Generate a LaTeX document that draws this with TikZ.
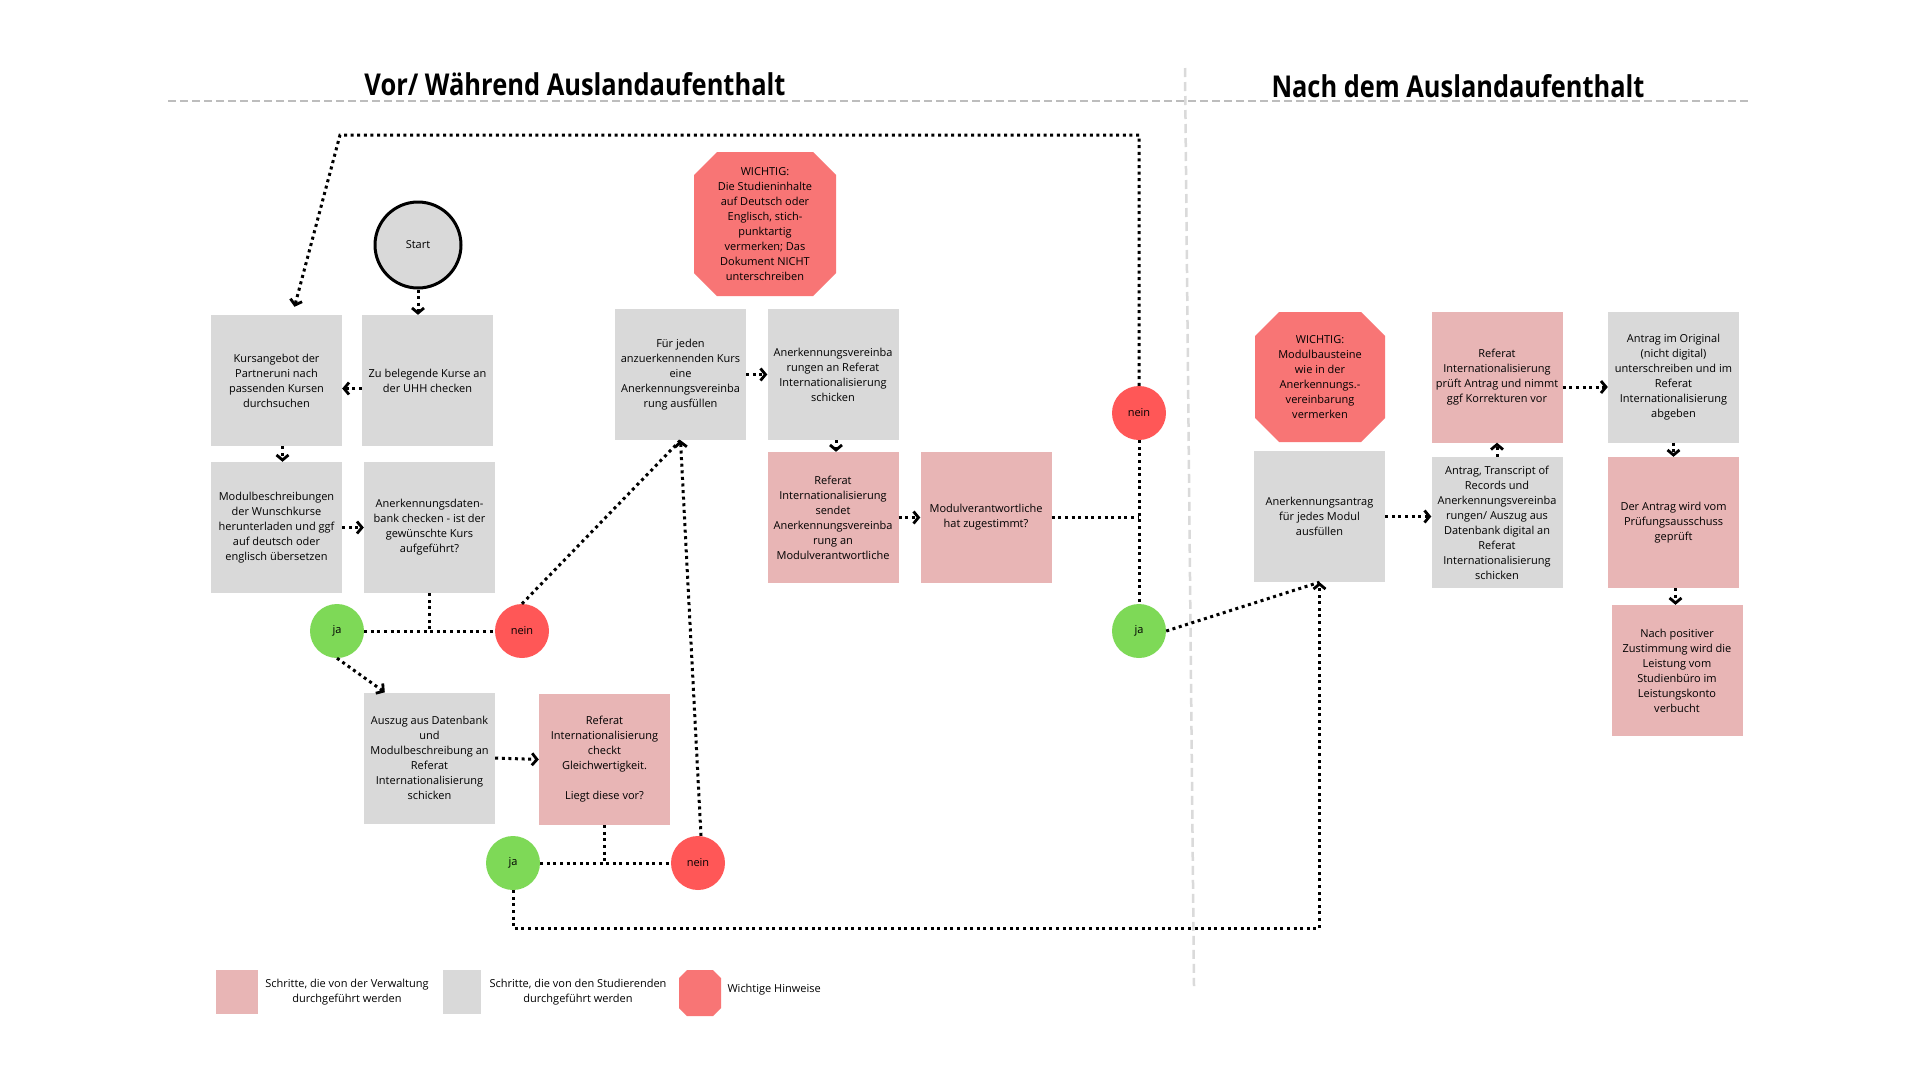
\documentclass[tikz,border=0pt]{standalone}
\usepackage{fontspec}
\setmainfont{Open Sans}
\usetikzlibrary{arrows.meta,calc}
\definecolor{boxgrey}{HTML}{D9D9D9}
\definecolor{boxpink}{HTML}{E8B5B5}
\definecolor{octred}{HTML}{F87575}
\definecolor{cred}{HTML}{FF5757}
\definecolor{cgreen}{HTML}{7ED957}
\definecolor{sepgrey}{HTML}{BDBDBD}
\definecolor{vsepgrey}{HTML}{DADADA}
\begin{document}
\begin{tikzpicture}[x=1pt,y=-1pt,
  txt/.style={align=center,font=\fontsize{11}{15}\selectfont},
  stud/.style={txt,rectangle,fill=boxgrey,minimum width=131pt,minimum height=131pt,inner sep=0pt},
  verw/.style={stud,fill=boxpink},
  octbox/.style={txt,rectangle,inner sep=0pt,
    path picture={\fill[octred]
      ([xshift=#1]path picture bounding box.north west) --
      ([xshift=-#1]path picture bounding box.north east) --
      ([yshift=-#1]path picture bounding box.north east) --
      ([yshift=#1]path picture bounding box.south east) --
      ([xshift=-#1]path picture bounding box.south east) --
      ([xshift=#1]path picture bounding box.south west) --
      ([yshift=#1]path picture bounding box.south west) --
      ([yshift=-#1]path picture bounding box.north west) -- cycle;}},
  circ/.style={circle,minimum size=54pt,inner sep=0pt,font=\fontsize{11}{13}\selectfont},
  janode/.style={circ,fill=cgreen},
  neinnode/.style={circ,fill=cred},
  conn/.style={line width=3pt,dash pattern=on 3pt off 3.6pt,black},
  arr/.style={conn,-{Straight Barb[length=5pt,width=12pt,line width=2.8pt]}}
]
\useasboundingbox (0,0) rectangle (1920,1080);
\fill[white] (0,0) rectangle (1920,1080);

% separators
\coordinate (hl) at (168,101);
\coordinate (hr) at (1749,101);
\draw[sepgrey,line width=2.5pt,dash pattern=on 8pt off 4pt] (hl) -- (hr);
\coordinate (vt) at (1185,68);
\coordinate (vb) at (1194,986);
\draw[vsepgrey,line width=2.5pt,dash pattern=on 9pt off 5pt] (vt) -- (vb);

% titles
\node (t1) at (575,84) {\resizebox{421pt}{23pt}{\bfseries Vor/ Während Auslandaufenthalt}};
\node (t2) at (1458,86) {\resizebox{373pt}{23pt}{\bfseries Nach dem Auslandaufenthalt}};

% left part
\node[circ,minimum size=86pt,draw=black,line width=3pt,fill=boxgrey] (start) at (418,245) {Start};
\node[stud] (kurs) at (276.5,380.5) {Kursangebot der\\Partneruni nach\\passenden Kursen\\durchsuchen};
\node[stud] (zu) at (427.5,380.5) {Zu belegende Kurse an\\der UHH checken};
\node[stud] (modul) at (276.5,527.5) {Modulbeschreibungen\\der Wunschkurse\\herunterladen und ggf\\auf deutsch oder\\englisch übersetzen};
\node[stud] (datenbank) at (429.5,527.5) {Anerkennungsdaten-\\bank checken - ist der\\gewünschte Kurs\\aufgeführt?};
\node[janode] (ja1) at (337,631) {ja};
\node[neinnode] (nein1) at (522,631) {nein};
\node[stud] (auszug) at (429.5,758) {Auszug aus Datenbank\\und\\Modulbeschreibung an\\Referat\\Internationalisierung\\schicken};
\node[verw] (checkt) at (604.5,759.5) {Referat\\Internationalisierung\\checkt\\Gleichwertigkeit.\\[15pt]Liegt diese vor?};
\node[janode] (ja2) at (513,863) {ja};
\node[neinnode] (nein2) at (698,863) {nein};

% middle part
\node[octbox=23pt,minimum width=142pt,minimum height=144pt] (w1) at (765,224) {WICHTIG:\\Die Studieninhalte\\auf Deutsch oder\\Englisch, stich-\\punktartig\\vermerken; Das\\Dokument NICHT\\unterschreiben};
\node[stud] (fuer) at (680.5,374.5) {Für jeden\\anzuerkennenden Kurs\\eine\\Anerkennungsvereinba\\rung ausfüllen};
\node[stud] (anvsch) at (833,374.5) {Anerkennungsvereinba\\rungen an Referat\\Internationalisierung\\schicken};
\node[verw] (sendet) at (833,517.5) {Referat\\Internationalisierung\\sendet\\Anerkennungsvereinba\\rung an\\Modulverantwortliche};
\node[verw] (zugest) at (986,517.5) {Modulverantwortliche\\hat zugestimmt?};
\node[neinnode] (nein3) at (1139,413) {nein};
\node[janode] (ja3) at (1139,631) {ja};

% right part
\node[octbox=24pt,minimum width=130pt,minimum height=130pt] (w2) at (1320,377) {WICHTIG:\\Modulbausteine\\wie in der\\Anerkennungs.-\\vereinbarung\\vermerken};
\node[stud] (antrag) at (1319.5,516.5) {Anerkennungsantrag\\für jedes Modul\\ausfüllen};
\node[verw] (pruef) at (1497,377) {Referat\\Internationalisierung\\prüft Antrag und nimmt\\ggf Korrekturen vor};
\node[stud] (transcript) at (1497,522.5) {Antrag, Transcript of\\Records und\\Anerkennungsvereinba\\rungen/ Auszug aus\\Datenbank digital an\\Referat\\Internationalisierung\\schicken};
\node[stud] (original) at (1673.5,377) {Antrag im Original\\(nicht digital)\\unterschreiben und im\\Referat\\Internationalisierung\\abgeben};
\node[verw] (geprueft) at (1673.5,522.5) {Der Antrag wird vom\\Prüfungsausschuss\\geprüft};
\node[verw] (positiv) at (1677,670.5) {Nach positiver\\Zustimmung wird die\\Leistung vom\\Studienbüro im\\Leistungskonto\\verbucht};

% connectors
\draw[arr] (start.south) -- (start.south |- zu.north);
\draw[arr] ([yshift=-8pt]zu.west) -- ([yshift=-8pt]kurs.east);
\draw[arr] ([xshift=6pt]kurs.south) -- ([xshift=6pt]modul.north);
\draw[arr] (modul.east) -- (datenbank.west);
\draw[conn] (datenbank.south) -- (datenbank.south |- ja1.center);
\draw[conn] (ja1.east) -- (nein1.west);
\draw[arr] (ja1.south) -- ([xshift=21pt]auszug.north west);
\draw[conn] (nein1.north) -- (fuer.south);
\draw[arr] (auszug.east) -- (checkt.west);
\draw[conn] (checkt.south) -- (checkt.south |- ja2.center);
\draw[conn] (ja2.east) -- (nein2.west);
\draw[arr] ([xshift=3pt]nein2.north) -- (fuer.south);
\coordinate (low) at (0,928);
\draw[arr] (ja2.south) -- (ja2.south |- low) -| (antrag.south);
\draw[arr] (fuer.east) -- (anvsch.west);
\draw[arr] ([xshift=3pt]anvsch.south) -- ([xshift=3pt]sendet.north);
\draw[arr] (sendet.east) -- (zugest.west);
\draw[conn] (zugest.east) -- (zugest.east -| nein3.center);
\draw[conn] (nein3.south) -- (ja3.north);
\coordinate (topc) at (340,135);
\draw[arr] (nein3.north) -- (nein3.north |- topc) -- (topc) -- ([xshift=18pt,yshift=8pt]kurs.north);
\draw[conn] (ja3.east) -- (antrag.south);
\draw[arr] (antrag.east) -- (antrag.east -| transcript.west);
\draw[arr] (transcript.north) -- (pruef.south);
\draw[arr] ([yshift=-10pt]pruef.east) -- ([yshift=-10pt]original.west);
\draw[arr] (original.south) -- (geprueft.north);
\draw[arr] ([xshift=2pt]geprueft.south) -- ([xshift=2pt]geprueft.south |- positiv.north);

% legend
\node[verw,minimum width=42pt,minimum height=44pt] (lg1) at (237,992) {};
\node[txt] (lt1) at (347,992) {Schritte, die von der Verwaltung\\durchgeführt werden};
\node[stud,minimum width=38pt,minimum height=44pt] (lg2) at (462,992) {};
\node[txt] (lt2) at (578,992) {Schritte, die von den Studierenden\\durchgeführt werden};
\node[octbox=8pt,minimum width=42pt,minimum height=46pt] (lg3) at (700,993) {};
\node[txt,anchor=west] (lt3) at (724,990) {Wichtige Hinweise};
\end{tikzpicture}
\end{document}
